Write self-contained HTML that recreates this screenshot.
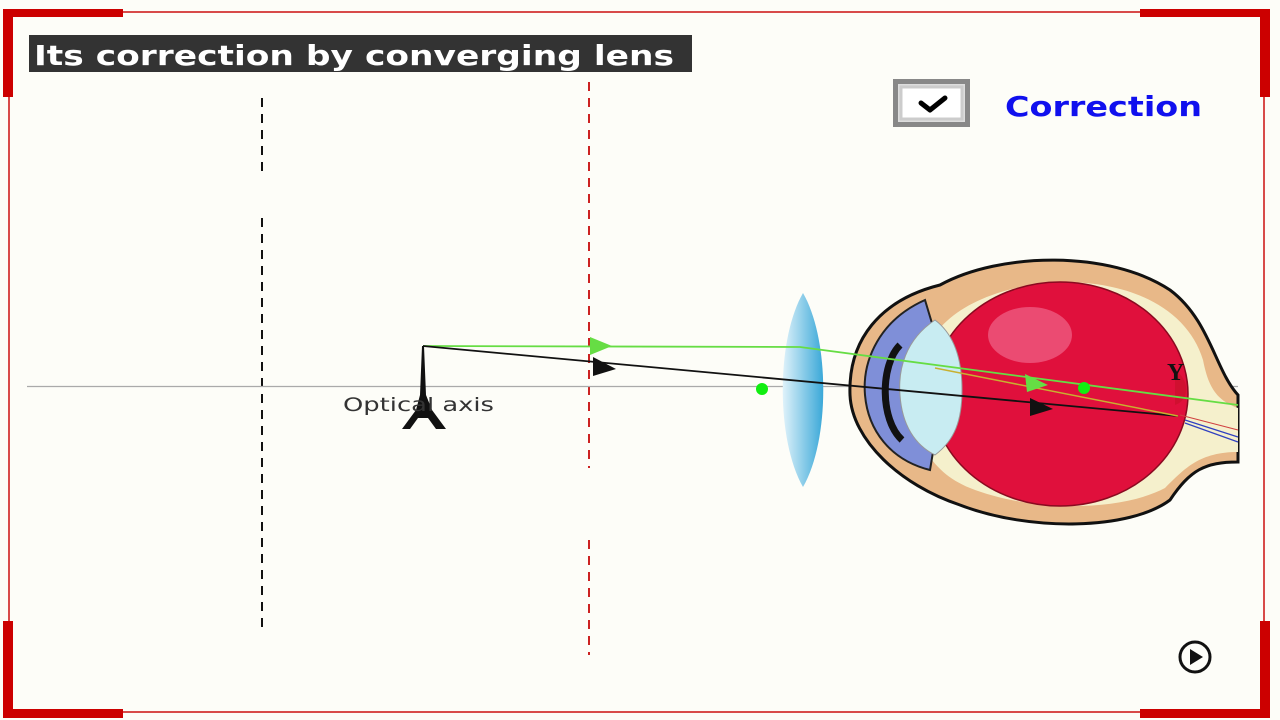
<!DOCTYPE html>
<html><head><meta charset="utf-8"><style>
html,body{margin:0;padding:0;background:#fdfdf8;}
svg{display:block}
</style></head><body>
<svg width="1280" height="720" viewBox="0 0 1280 720" xmlns="http://www.w3.org/2000/svg">
<rect width="1280" height="720" fill="#fdfdf8"/>
<rect x="9" y="12" width="1255" height="700" fill="none" stroke="#cc1010" stroke-width="1.5"/>
<g fill="#cc0000">
<rect x="3" y="9" width="120" height="8"/><rect x="3" y="9" width="10" height="88"/>
<rect x="1140" y="9" width="130" height="8"/><rect x="1260" y="9" width="10" height="88"/>
<rect x="1140" y="709" width="130" height="9"/><rect x="1260" y="621" width="10" height="97"/>
<rect x="3" y="709" width="120" height="9"/><rect x="3" y="621" width="10" height="97"/>
</g>
<rect x="29" y="35" width="663" height="37" fill="#333"/>
<text x="34" y="65" font-family="DejaVu Sans, Liberation Sans, sans-serif" font-weight="bold" font-size="28" fill="#fff" textLength="640" lengthAdjust="spacingAndGlyphs">Its correction by converging lens</text>
<rect x="895.5" y="81.5" width="72" height="43" fill="#ddd" stroke="#888" stroke-width="5"/>
<rect x="901" y="87" width="61" height="32" fill="#fff" stroke="#ccc" stroke-width="3"/>
<path d="M921 103 L930 110 L945 98" fill="none" stroke="#000" stroke-width="5" stroke-linecap="round" stroke-linejoin="round"/>
<text x="1005" y="116" font-family="DejaVu Sans, Liberation Sans, sans-serif" font-weight="bold" font-size="28" fill="#1010ee" textLength="197" lengthAdjust="spacingAndGlyphs">Correction</text>
<line x1="262" y1="98" x2="262" y2="172" stroke="#111" stroke-width="2" stroke-dasharray="9,7"/>
<line x1="262" y1="218" x2="262" y2="628" stroke="#111" stroke-width="2" stroke-dasharray="9,7"/>
<line x1="589" y1="82" x2="589" y2="468" stroke="#cc2222" stroke-width="2" stroke-dasharray="9,7"/>
<line x1="589" y1="540" x2="589" y2="655" stroke="#cc2222" stroke-width="2" stroke-dasharray="9,7"/>
<line x1="27" y1="386.5" x2="1238" y2="386.5" stroke="#aaa" stroke-width="1.2"/>
<g>
<path d="M1238 395 L1238 462 C1205 462 1190 470 1170 500 C1130 530 1030 532 960 505 C900 485 852 440 850 395 C848 340 880 300 940 285 C1000 252 1110 250 1170 290 C1210 320 1215 370 1238 395 Z" fill="#e8b888" stroke="#111" stroke-width="3"/>
<path d="M1238 408 L1238 452 C1200 452 1185 468 1165 488 C1120 512 1030 512 970 488 C920 468 910 420 915 390 C920 330 960 298 1030 285 C1110 273 1185 300 1203 360 C1208 385 1215 400 1238 408 Z" fill="#f5f0cc"/>
<ellipse cx="1060" cy="394" rx="128" ry="112" fill="#e0103c" stroke="#8a0a20" stroke-width="1.5"/>
<ellipse cx="1030" cy="335" rx="42" ry="28" fill="#ee5a80" opacity="0.8"/>
<path d="M925 300 C880 320 862 360 865 395 C868 430 890 460 930 470 L935 440 L940 350 Z" fill="#7f8fd8" stroke="#222" stroke-width="2"/>
<path d="M935 320 C905 340 898 370 900 395 C902 425 915 445 935 455 C955 440 962 420 962 390 C962 360 955 335 935 320 Z" fill="#c8ecf2" stroke="#999" stroke-width="1"/>
<path d="M900 345 C880 365 880 420 902 440" fill="none" stroke="#111" stroke-width="7"/>
<path d="M1175 370 C1190 380 1190 400 1175 405 Z" fill="#d01030"/>
<path d="M1185 420 L1238 437 M1185 423 L1238 442" stroke="#3040c0" stroke-width="1.2"/>
<path d="M1180 415 L1238 430" stroke="#d04040" stroke-width="1"/>
</g>
<defs><linearGradient id="lg" x1="0" x2="1"><stop offset="0" stop-color="#dff2fa"/><stop offset="1" stop-color="#3aa8d8"/></linearGradient></defs>
<path d="M803 293 C830 340 830 440 803 487 C776 440 776 340 803 293 Z" fill="url(#lg)"/>
<polyline points="423,346 800,347 1238,405" fill="none" stroke="#66dd44" stroke-width="1.8"/>
<line x1="423" y1="346" x2="1178" y2="416" stroke="#111" stroke-width="1.8"/>
<line x1="935" y1="368" x2="1178" y2="416" stroke="#c8b030" stroke-width="1.5"/>
<polygon points="590,337 590,355 612,346" fill="#66dd44"/>
<polygon points="1025,374 1027,392 1048,385" fill="#66dd44"/>
<polygon points="593,357 593,376 616,369" fill="#111"/>
<polygon points="1030,398 1030,416 1053,409" fill="#111"/>
<circle cx="762" cy="389" r="6" fill="#11ee11"/>
<circle cx="1084" cy="388" r="6" fill="#11ee11"/>
<text x="1167" y="380" font-family="Liberation Serif, serif" font-weight="bold" font-size="24" fill="#111">Y</text>
<path d="M422 346 L424 346 L426 395 L432 410 L446 429 L436 429 L428 418 L418 418 L410 429 L402 429 L416 410 L420 395 Z" fill="#111"/>
<text x="343" y="411" font-family="DejaVu Sans, Liberation Sans, sans-serif" font-size="19" fill="#333" textLength="151" lengthAdjust="spacingAndGlyphs">Optical axis</text>
<circle cx="1195" cy="657" r="15" fill="none" stroke="#111" stroke-width="3"/>
<polygon points="1190,649 1190,665 1203,657" fill="#111"/>
</svg>
</body></html>
